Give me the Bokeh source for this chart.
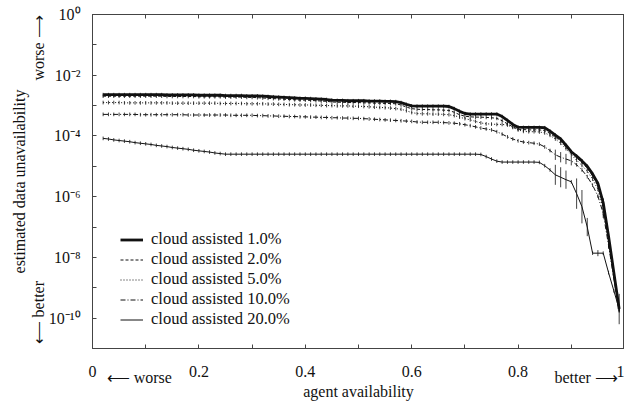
from bokeh.embed import file_html
from bokeh.models import (ColumnDataSource, FixedTicker, Legend, LegendItem,
                          LinearAxis, LogAxis, Range1d)
from bokeh.plotting import figure
from bokeh.resources import INLINE

# ---------------------------------------------------------------- data
# agent availability sampled every 0.01 from 0.02 to 0.99
availability = [round(0.02 + 0.01 * i, 2) for i in range(98)]

series_labels = [
    "cloud assisted 1.0%",
    "cloud assisted 2.0%",
    "cloud assisted 5.0%",
    "cloud assisted 10.0%",
    "cloud assisted 20.0%",
]

# log10 of the estimated data unavailability, one row of ten samples per line
log_unavail_1 = [
    -2.64, -2.64, -2.64, -2.64, -2.64, -2.64, -2.64, -2.64, -2.64, -2.64,
    -2.64, -2.64, -2.65, -2.65, -2.65, -2.65, -2.65, -2.65, -2.66, -2.66,
    -2.66, -2.66, -2.66, -2.67, -2.67, -2.67, -2.67, -2.68, -2.68, -2.68,
    -2.69, -2.70, -2.71, -2.72, -2.73, -2.74, -2.75, -2.76, -2.76, -2.77,
    -2.78, -2.79, -2.80, -2.82, -2.83, -2.83, -2.84, -2.84, -2.84, -2.84,
    -2.85, -2.85, -2.85, -2.86, -2.86, -2.87, -2.90, -2.96, -3.01, -3.02,
    -3.02, -3.02, -3.02, -3.02, -3.02, -3.03, -3.10, -3.19, -3.26, -3.28,
    -3.28, -3.28, -3.28, -3.28, -3.28, -3.36, -3.49, -3.62, -3.71, -3.72,
    -3.72, -3.72, -3.72, -3.73, -3.84, -3.97, -4.10, -4.30, -4.52, -4.66,
    -4.82, -5.00, -5.25, -5.56, -6.20, -7.30, -8.50, -9.70,
]
log_unavail_2 = [
    -2.69, -2.69, -2.69, -2.69, -2.69, -2.69, -2.69, -2.69, -2.69, -2.69,
    -2.69, -2.69, -2.70, -2.70, -2.70, -2.70, -2.70, -2.70, -2.71, -2.71,
    -2.71, -2.71, -2.71, -2.72, -2.72, -2.72, -2.72, -2.73, -2.73, -2.74,
    -2.75, -2.76, -2.77, -2.78, -2.79, -2.80, -2.81, -2.82, -2.82, -2.83,
    -2.84, -2.85, -2.86, -2.88, -2.89, -2.89, -2.90, -2.90, -2.90, -2.91,
    -2.91, -2.92, -2.92, -2.93, -2.93, -2.94, -2.98, -3.05, -3.10, -3.12,
    -3.13, -3.13, -3.14, -3.14, -3.15, -3.16, -3.22, -3.30, -3.35, -3.37,
    -3.38, -3.38, -3.39, -3.40, -3.42, -3.50, -3.60, -3.70, -3.78, -3.79,
    -3.80, -3.80, -3.80, -3.82, -3.92, -4.04, -4.17, -4.36, -4.57, -4.72,
    -4.88, -5.06, -5.32, -5.64, -6.28, -7.36, -8.56, -9.72,
]
log_unavail_5 = [
    -2.90, -2.90, -2.90, -2.90, -2.91, -2.91, -2.91, -2.91, -2.91, -2.91,
    -2.91, -2.91, -2.91, -2.92, -2.92, -2.92, -2.92, -2.92, -2.92, -2.92,
    -2.92, -2.92, -2.93, -2.93, -2.93, -2.93, -2.93, -2.94, -2.94, -2.94,
    -2.94, -2.95, -2.95, -2.96, -2.96, -2.97, -2.97, -2.98, -2.98, -2.98,
    -2.99, -2.99, -3.00, -3.00, -3.01, -3.01, -3.01, -3.02, -3.02, -3.03,
    -3.04, -3.05, -3.06, -3.07, -3.08, -3.10, -3.12, -3.17, -3.23, -3.26,
    -3.27, -3.27, -3.28, -3.28, -3.29, -3.30, -3.33, -3.38, -3.43, -3.47,
    -3.52, -3.57, -3.60, -3.61, -3.62, -3.62, -3.64, -3.72, -3.80, -3.85,
    -3.86, -3.86, -3.87, -3.90, -3.98, -4.10, -4.24, -4.42, -4.62, -4.80,
    -4.97, -5.16, -5.42, -5.76, -6.40, -7.46, -8.62, -9.74,
]
log_unavail_10 = [
    -3.29, -3.29, -3.29, -3.29, -3.29, -3.29, -3.29, -3.30, -3.30, -3.30,
    -3.30, -3.30, -3.30, -3.30, -3.30, -3.30, -3.31, -3.31, -3.31, -3.31,
    -3.31, -3.31, -3.31, -3.31, -3.32, -3.32, -3.32, -3.32, -3.32, -3.33,
    -3.33, -3.34, -3.34, -3.35, -3.35, -3.36, -3.36, -3.37, -3.37, -3.38,
    -3.38, -3.39, -3.39, -3.40, -3.40, -3.41, -3.41, -3.42, -3.42, -3.43,
    -3.44, -3.45, -3.46, -3.47, -3.48, -3.49, -3.50, -3.51, -3.52, -3.54,
    -3.55, -3.55, -3.55, -3.55, -3.56, -3.57, -3.58, -3.60, -3.63, -3.66,
    -3.70, -3.74, -3.77, -3.80, -3.86, -3.94, -4.03, -4.10, -4.16, -4.20,
    -4.22, -4.24, -4.27, -4.36, -4.48, -4.62, -4.70, -4.76, -4.82, -4.95,
    -5.12, -5.34, -5.62, -5.98, -6.55, -7.60, -8.70, -9.76,
]
log_unavail_20 = [
    -4.08, -4.10, -4.13, -4.15, -4.17, -4.19, -4.22, -4.24, -4.26, -4.28,
    -4.31, -4.33, -4.35, -4.38, -4.40, -4.42, -4.44, -4.47, -4.49, -4.51,
    -4.53, -4.56, -4.58, -4.60, -4.60, -4.60, -4.60, -4.60, -4.60, -4.60,
    -4.60, -4.60, -4.60, -4.60, -4.60, -4.60, -4.60, -4.60, -4.60, -4.60,
    -4.60, -4.60, -4.60, -4.60, -4.60, -4.60, -4.60, -4.60, -4.60, -4.60,
    -4.60, -4.60, -4.60, -4.60, -4.60, -4.60, -4.60, -4.60, -4.60, -4.60,
    -4.60, -4.60, -4.60, -4.60, -4.60, -4.60, -4.60, -4.60, -4.60, -4.60,
    -4.60, -4.61, -4.68, -4.76, -4.83, -4.86, -4.86, -4.86, -4.86, -4.86,
    -4.86, -4.86, -4.87, -4.98, -5.12, -5.28, -5.36, -5.44, -5.51, -5.90,
    -6.33, -7.00, -7.86, -7.86, -7.86, -8.50, -9.10, -9.70,
]
log_series = [log_unavail_1, log_unavail_2, log_unavail_5,
              log_unavail_10, log_unavail_20]

# half length of the error bars (decades); small everywhere except the listed points
err_default = 0.06
err_wide_1 = {0.96: 0.15}
err_wide_2 = {0.96: 0.2}
err_wide_5 = {0.96: 0.3, 0.97: 0.25}
err_wide_10 = {0.87: 0.17, 0.88: 0.17, 0.89: 0.17, 0.90: 0.15}
err_wide_20 = {0.87: 0.33, 0.88: 0.33, 0.89: 0.3, 0.91: 0.5, 0.92: 0.55,
               0.93: 0.3, 0.95: 0.1, 0.99: 0.5}
err_series = [err_wide_1, err_wide_2, err_wide_5, err_wide_10, err_wide_20]

x_ticks = [0.0, 0.1, 0.2, 0.3, 0.4, 0.5, 0.6, 0.7, 0.8, 0.9, 1.0]
x_tick_labels = {0.0: "0", 0.1: "", 0.2: "0.2", 0.3: "", 0.4: "0.4", 0.5: "",
                 0.6: "0.6", 0.7: "", 0.8: "0.8", 0.9: "", 1.0: "1"}
y_tick_powers = [0, -1, -2, -3, -4, -5, -6, -7, -8, -9, -10]
y_tick_texts = ["10\u2070", "", "10\u207b\u00b2", "", "10\u207b\u2074", "",
                "10\u207b\u2076", "", "10\u207b\u2078", "",
                "10\u207b\u00b9\u2070"]

x_title = "agent availability"
y_title = "estimated data unavailability"
# direction hints: (axis position, text)
x_hints = [(0.088, "\u27f5 worse"), (0.928, "better \u27f6")]
y_hints = [(-1.10, "worse \u27f6"), (-9.82, "\u27f5 better")]

# ---------------------------------------------------------------- styles
FONT = "Liberation Serif"
INK = "#111111"
AXIS = "#444444"
line_styles = [
    dict(line_width=2.8, line_dash="solid"),
    dict(line_width=1.0, line_dash="3 2"),
    dict(line_width=1.0, line_dash="1 2"),
    dict(line_width=1.0, line_dash="5 2 1 2"),
    dict(line_width=1.0, line_dash="solid"),
]

p = figure(
    width=624, height=404,
    x_range=Range1d(0, 1), y_range=Range1d(1e-11, 1.0),
    y_axis_type="log",
    output_backend="svg", toolbar_location=None,
    min_border_left=92, min_border_right=0,
    min_border_top=14, min_border_bottom=56,
)
p.background_fill_color = "white"
p.border_fill_color = "white"
p.outline_line_color = AXIS
p.outline_line_width = 1
p.xgrid.visible = False
p.ygrid.visible = False


def hidden_guide(axis):
    axis.axis_line_color = None
    axis.major_tick_line_color = None
    axis.minor_tick_line_color = None
    axis.major_tick_in = 0
    axis.major_tick_out = 0
    axis.minor_tick_in = 0
    axis.minor_tick_out = 0


# bottom axis with the tick values
xa = p.xaxis[0]
xa.ticker = FixedTicker(ticks=x_ticks)
xa.major_label_overrides = x_tick_labels
xa.major_tick_in = 4
xa.major_tick_out = 0
xa.minor_tick_in = 0
xa.minor_tick_out = 0
xa.minor_tick_line_color = None
xa.axis_line_color = AXIS
xa.major_tick_line_color = AXIS
xa.major_label_standoff = 17
xa.major_label_text_font = FONT
xa.major_label_text_font_size = "16px"
xa.major_label_text_color = INK

# second bottom row: direction hints plus the title
xh = LinearAxis(ticker=FixedTicker(ticks=[h[0] for h in x_hints]),
                major_label_overrides={h[0]: h[1] for h in x_hints},
                major_label_standoff=-11,
                major_label_text_font=FONT, major_label_text_font_size="16px",
                major_label_text_color=INK,
                axis_label=x_title, axis_label_standoff=-6,
                axis_label_text_font=FONT, axis_label_text_font_size="16px",
                axis_label_text_font_style="normal",
                axis_label_text_color=INK)
hidden_guide(xh)
p.add_layout(xh, "below")

# left axis with decade labels
ya = p.yaxis[0]
ya.ticker = FixedTicker(ticks=[10.0 ** k for k in y_tick_powers])
ya.major_label_overrides = {10.0 ** k: t for k, t in zip(y_tick_powers, y_tick_texts)}
ya.major_tick_in = 4
ya.major_tick_out = 0
ya.minor_tick_in = 0
ya.minor_tick_out = 0
ya.minor_tick_line_color = None
ya.axis_line_color = AXIS
ya.major_tick_line_color = AXIS
ya.major_label_standoff = 12
ya.major_label_text_font = FONT
ya.major_label_text_font_size = "16px"
ya.major_label_text_color = INK

# second left column: direction hints plus the title
yh = LogAxis(ticker=FixedTicker(ticks=[10.0 ** h[0] for h in y_hints]),
             major_label_overrides={10.0 ** h[0]: h[1] for h in y_hints},
             major_label_orientation="parallel",
             major_label_standoff=-2,
             major_label_text_font=FONT, major_label_text_font_size="16px",
             major_label_text_color=INK,
             axis_label=y_title, axis_label_standoff=0,
             axis_label_text_font=FONT, axis_label_text_font_size="16px",
             axis_label_text_font_style="normal",
             axis_label_text_color=INK)
hidden_guide(yh)
p.add_layout(yh, "left")

# top axis mirrors the x ticks
top = LinearAxis(ticker=FixedTicker(ticks=x_ticks), major_tick_in=4,
                 major_tick_out=0, minor_tick_in=0, minor_tick_out=0,
                 minor_tick_line_color=None,
                 axis_line_color=AXIS, major_tick_line_color=AXIS,
                 major_label_text_font_size="1px",
                 major_label_text_color=None, major_label_standoff=0)
p.add_layout(top, "above")

# ---------------------------------------------------------------- curves
order = [4, 3, 2, 1, 0]  # heaviest line drawn last
drawn = {}
for idx in order:
    logs = log_series[idx]
    vals = [10.0 ** v for v in logs]
    wide = err_series[idx]
    lo, hi = [], []
    for x, v in zip(availability, logs):
        e = wide.get(x, err_default)
        lo.append(10.0 ** (v - e))
        hi.append(10.0 ** (v + e))
    src = ColumnDataSource(dict(x=availability, y=vals, lo=lo, hi=hi))
    p.segment(x0="x", y0="lo", x1="x", y1="hi", source=src,
              line_color=INK, line_width=0.8)
    drawn[idx] = p.line("x", "y", source=src, line_color=INK,
                        **line_styles[idx])

legend = Legend(
    items=[LegendItem(label=series_labels[i], renderers=[drawn[i]])
           for i in range(5)],
    location=(28, 19),
    orientation="vertical",
    border_line_color=None,
    background_fill_alpha=0,
    padding=0, margin=0, spacing=0,
    glyph_width=23, glyph_height=17, label_height=17,
    label_standoff=8,
    label_text_font=FONT, label_text_font_size="16.5px",
    label_text_line_height=1.0,
    label_text_color=INK,
)
p.add_layout(legend)

open("out.html", "w").write(file_html(p, INLINE))
